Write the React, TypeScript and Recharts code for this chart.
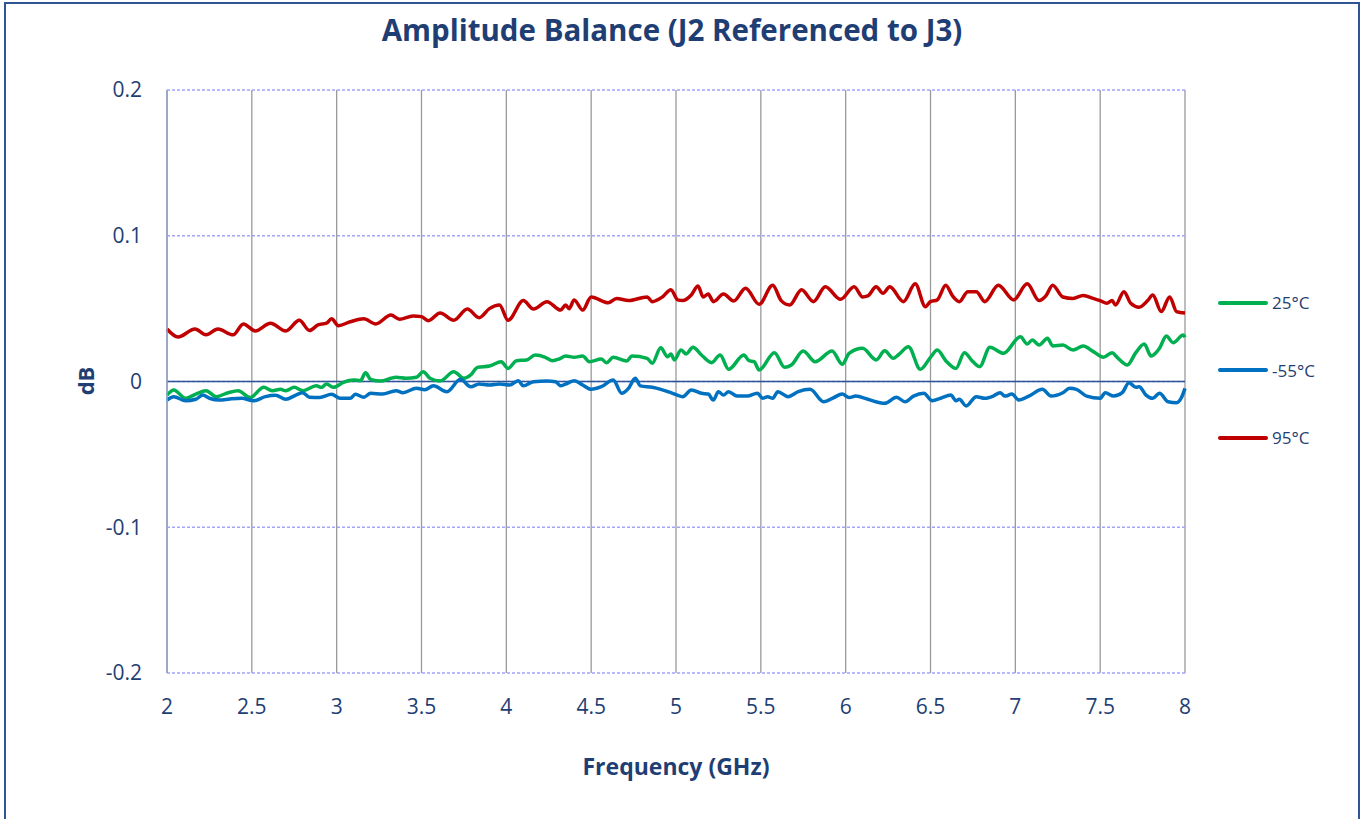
import React from "react"
import {
  LineChart,
  Line,
  XAxis,
  YAxis,
  CartesianGrid,
  ReferenceLine,
} from "recharts"

// 25°C
const freq25 = [
  2.0, 2.04, 2.11, 2.17, 2.23, 2.29, 2.36, 2.42, 2.49, 2.57, 2.62, 2.67, 2.7, 2.75, 2.8, 2.88, 2.91, 2.94,
  2.98, 3.04, 3.1, 3.14, 3.17, 3.2, 3.26, 3.32, 3.35, 3.41, 3.47, 3.51, 3.55, 3.61, 3.69, 3.75, 3.79, 3.83,
  3.9, 3.97, 4.01, 4.06, 4.12, 4.17, 4.23, 4.27, 4.31, 4.35, 4.4, 4.45, 4.49, 4.56, 4.59, 4.63, 4.71, 4.74,
  4.83, 4.86, 4.91, 4.95, 4.97, 4.99, 5.03, 5.06, 5.1, 5.15, 5.21, 5.26, 5.31, 5.4, 5.43, 5.46, 5.49, 5.58,
  5.64, 5.68, 5.75, 5.82, 5.92, 5.98, 6.02, 6.1, 6.18, 6.23, 6.28, 6.31, 6.37, 6.44, 6.5, 6.54, 6.59, 6.65,
  6.7, 6.75, 6.79, 6.85, 6.93, 7.03, 7.07, 7.1, 7.14, 7.19, 7.22, 7.28, 7.34, 7.4, 7.46, 7.52, 7.57, 7.6,
  7.66, 7.71, 7.76, 7.8, 7.85, 7.89, 7.93, 7.99, 8.0,
]
const db25 = [
  -0.0093, -0.0058, -0.0115, -0.0086, -0.0063, -0.0104, -0.0077, -0.0063, -0.011, -0.004, -0.0063, -0.0054,
  -0.0063, -0.004, -0.0063, -0.003, -0.004, -0.0017, -0.004, -0.0006, 0.001, 0.0006, 0.006, 0.0015, 0.0003,
  0.0022, 0.0029, 0.0022, 0.0029, 0.0067, 0.0022, 0.0003, 0.0067, 0.0022, 0.0045, 0.0097, 0.0106, 0.0136,
  0.009, 0.0143, 0.0148, 0.0182, 0.0166, 0.0143, 0.0154, 0.0175, 0.0166, 0.0175, 0.0136, 0.0154, 0.0129,
  0.0166, 0.014, 0.0175, 0.0159, 0.0125, 0.0232, 0.017, 0.0189, 0.0148, 0.0216, 0.0189, 0.0235, 0.0182,
  0.0129, 0.0182, 0.0084, 0.0182, 0.0143, 0.0136, 0.0079, 0.0198, 0.0097, 0.0113, 0.0209, 0.0136, 0.0209,
  0.0118, 0.0193, 0.0228, 0.0148, 0.0211, 0.0159, 0.0182, 0.0239, 0.0084, 0.0166, 0.0216, 0.0143, 0.009,
  0.0198, 0.0136, 0.0102, 0.0235, 0.0193, 0.0307, 0.0257, 0.0285, 0.025, 0.0296, 0.0244, 0.025, 0.0216,
  0.0244, 0.0205, 0.0166, 0.0198, 0.0166, 0.0113, 0.0198, 0.0257, 0.0175, 0.0228, 0.0312, 0.0266, 0.0319,
  0.0303,
]

// -55°C
const freqM55 = [
  2.0, 2.04, 2.11, 2.17, 2.21, 2.25, 2.31, 2.37, 2.44, 2.51, 2.58, 2.64, 2.7, 2.76, 2.8, 2.84, 2.9, 2.97,
  3.02, 3.08, 3.11, 3.16, 3.2, 3.27, 3.35, 3.39, 3.47, 3.52, 3.57, 3.65, 3.73, 3.79, 3.84, 3.9, 3.96, 4.02,
  4.07, 4.1, 4.16, 4.24, 4.29, 4.32, 4.36, 4.4, 4.45, 4.5, 4.56, 4.63, 4.68, 4.72, 4.76, 4.79, 4.86, 4.91,
  4.98, 5.04, 5.09, 5.15, 5.19, 5.22, 5.25, 5.28, 5.31, 5.36, 5.42, 5.48, 5.51, 5.54, 5.57, 5.6, 5.66, 5.72,
  5.79, 5.87, 5.93, 5.98, 6.02, 6.06, 6.13, 6.23, 6.3, 6.35, 6.4, 6.46, 6.51, 6.56, 6.62, 6.65, 6.67, 6.71,
  6.77, 6.82, 6.87, 6.91, 6.94, 6.98, 7.02, 7.08, 7.16, 7.21, 7.28, 7.32, 7.36, 7.42, 7.5, 7.53, 7.58, 7.63,
  7.67, 7.71, 7.73, 7.77, 7.81, 7.85, 7.9, 7.95, 7.98, 8.0,
]
const dbM55 = [
  -0.0127, -0.0104, -0.0132, -0.0122, -0.0093, -0.0115, -0.0127, -0.012, -0.0115, -0.0132, -0.0104, -0.0095,
  -0.0122, -0.0093, -0.0077, -0.0108, -0.011, -0.0088, -0.0115, -0.0115, -0.0088, -0.0108, -0.0081, -0.0086,
  -0.0063, -0.0077, -0.0047, -0.0056, -0.003, -0.007, 0.0015, -0.0036, -0.0017, -0.0024, -0.0017, -0.0024,
  0.0006, -0.003, -0.0001, 0.0003, -0.0001, -0.003, -0.0012, 0.0006, -0.0024, -0.0054, -0.0036, 0.001,
  -0.0081, -0.0047, 0.0022, -0.003, -0.004, -0.0054, -0.0081, -0.0104, -0.0058, -0.0081, -0.0086, -0.0127,
  -0.007, -0.0093, -0.007, -0.01, -0.01, -0.0081, -0.0115, -0.0104, -0.0115, -0.007, -0.0104, -0.007,
  -0.0054, -0.0139, -0.011, -0.0086, -0.011, -0.01, -0.0122, -0.015, -0.0108, -0.0139, -0.01, -0.0081,
  -0.0132, -0.0115, -0.0093, -0.0132, -0.0122, -0.0168, -0.0104, -0.0115, -0.01, -0.0077, -0.01, -0.0086,
  -0.0127, -0.01, -0.0054, -0.01, -0.0077, -0.0047, -0.0054, -0.01, -0.0115, -0.0077, -0.01, -0.0077,
  -0.0008, -0.004, -0.0036, -0.0093, -0.0115, -0.0081, -0.0139, -0.0145, -0.0108, -0.0047,
]

// 95°C
const freq95 = [
  2.0, 2.065, 2.165, 2.23, 2.3, 2.39, 2.45, 2.52, 2.61, 2.7, 2.78, 2.84, 2.89, 2.94, 2.97, 3.01, 3.08, 3.16,
  3.23, 3.32, 3.37, 3.45, 3.5, 3.54, 3.61, 3.69, 3.77, 3.84, 3.9, 3.96, 4.01, 4.1, 4.16, 4.24, 4.32, 4.35,
  4.37, 4.4, 4.45, 4.5, 4.6, 4.65, 4.72, 4.83, 4.86, 4.92, 4.97, 5.01, 5.04, 5.09, 5.13, 5.16, 5.19, 5.22,
  5.28, 5.34, 5.41, 5.49, 5.57, 5.62, 5.67, 5.74, 5.81, 5.88, 5.97, 6.05, 6.1, 6.13, 6.18, 6.22, 6.26, 6.34,
  6.41, 6.47, 6.5, 6.54, 6.59, 6.63, 6.67, 6.72, 6.77, 6.82, 6.9, 6.99, 7.07, 7.14, 7.18, 7.22, 7.28, 7.34,
  7.4, 7.46, 7.5, 7.54, 7.57, 7.59, 7.64, 7.68, 7.73, 7.78, 7.81, 7.86, 7.91, 7.95, 8.0,
]
const db95 = [
  0.036, 0.0305, 0.036, 0.032, 0.036, 0.032, 0.0395, 0.0347, 0.04, 0.0347, 0.042, 0.035, 0.0388, 0.04, 0.043,
  0.0383, 0.041, 0.043, 0.0395, 0.0456, 0.0427, 0.045, 0.0445, 0.0417, 0.047, 0.042, 0.0497, 0.0438, 0.05,
  0.0525, 0.042, 0.0555, 0.0497, 0.0548, 0.049, 0.0525, 0.05, 0.056, 0.049, 0.058, 0.054, 0.057, 0.0555,
  0.058, 0.0548, 0.058, 0.063, 0.056, 0.0555, 0.0594, 0.0655, 0.058, 0.06, 0.0548, 0.06, 0.0552, 0.064, 0.053,
  0.066, 0.0555, 0.0525, 0.063, 0.0548, 0.065, 0.0564, 0.065, 0.058, 0.0587, 0.065, 0.0605, 0.065, 0.0548,
  0.067, 0.0513, 0.0548, 0.056, 0.066, 0.0587, 0.0548, 0.0616, 0.0616, 0.0548, 0.066, 0.056, 0.067, 0.0555,
  0.0587, 0.066, 0.058, 0.057, 0.059, 0.057, 0.0555, 0.0537, 0.0555, 0.0525, 0.0616, 0.0537, 0.051, 0.0555,
  0.0594, 0.048, 0.058, 0.048, 0.047,
]

const xTicks = [2, 2.5, 3, 3.5, 4, 4.5, 5, 5.5, 6, 6.5, 7, 7.5, 8]
const yTicks = [-0.2, -0.1, 0, 0.1, 0.2]

const toPoints = (freqs: number[], vals: number[]) => freqs.map((f, i) => ({ f, v: vals[i] }))

const series = [
  { name: "25°C", color: "#00B050", data: toPoints(freq25, db25) },
  { name: "-55°C", color: "#0070C0", data: toPoints(freqM55, dbM55) },
  { name: "95°C", color: "#C00000", data: toPoints(freq95, db95) },
]

const FONT = "'Open Sans', 'Noto Sans', sans-serif"
const TEXT = "#1F3E74"

// legend drawn beside the plot, like the Excel original
function LegendBox() {
  return (
    <div
      style={{
        position: "absolute",
        left: 1218,
        top: 269,
        fontFamily: FONT,
        fontSize: 17,
        color: TEXT,
      }}
    >
      {series.map((s) => (
        <div key={s.name} style={{ display: "flex", alignItems: "center", height: 67.5 }}>
          <div style={{ width: 50, height: 4, background: s.color, borderRadius: 2, marginRight: 4 }} />
          <span>{s.name}</span>
        </div>
      ))}
    </div>
  )
}

export default function App() {
  return (
    <div
      style={{
        position: "absolute",
        left: 0,
        top: 0,
        width: 1360,
        height: 819,
        background: "#fff",
        overflow: "hidden",
        fontFamily: FONT,
      }}
    >
      <div
        style={{
          position: "absolute",
          left: 4,
          top: 2,
          width: 1352,
          height: 840,
          border: "2px solid #2F5597",
        }}
      />
      <div
        style={{
          position: "absolute",
          left: 0,
          width: 1344,
          top: 9,
          textAlign: "center",
          fontSize: 29.5,
          fontWeight: 700,
          color: TEXT,
        }}
      >
        Amplitude Balance (J2 Referenced to J3)
      </div>
      <div style={{ position: "absolute", left: 0, top: 0 }}>
        <LineChart width={1360} height={819} margin={{ top: 90, right: 175, left: 0, bottom: 0 }}>
          <CartesianGrid horizontal={false} stroke="#9A9A9A" strokeWidth={1.3} />
          <CartesianGrid vertical={false} stroke="#A3A3FA" strokeDasharray="3 2" strokeWidth={1.3} />
          <XAxis
            type="number"
            dataKey="f"
            domain={[2, 8]}
            ticks={xTicks}
            allowDuplicatedCategory={false}
            axisLine={false}
            tickLine={false}
            tickSize={0}
            tickMargin={26}
            height={146}
            tick={{ fill: TEXT, fontSize: 21, fontFamily: FONT }}
          />
          <YAxis
            type="number"
            domain={[-0.2, 0.2]}
            ticks={yTicks}
            width={167}
            axisLine={{ stroke: "#8FA3C8", strokeWidth: 1.5 }}
            tickLine={false}
            tickSize={0}
            tickMargin={25}
            tickFormatter={(v: number) => `${Math.round(v * 10) / 10}`}
            tick={{ fill: TEXT, fontSize: 21, fontFamily: FONT }}
          />
          <ReferenceLine y={0} stroke="#2F5597" strokeWidth={1.3} />
          {series.map((s) => (
            <Line
              key={s.name}
              data={s.data}
              dataKey="v"
              name={s.name}
              stroke={s.color}
              strokeWidth={3.5}
              dot={false}
              type="monotone"
              isAnimationActive={false}
            />
          ))}
        </LineChart>
      </div>
      <LegendBox />
      <div
        style={{
          position: "absolute",
          left: 167,
          width: 1018,
          top: 750,
          textAlign: "center",
          fontSize: 23,
          fontWeight: 700,
          color: TEXT,
        }}
      >
        Frequency (GHz)
      </div>
      <div
        style={{
          position: "absolute",
          left: 85,
          top: 381,
          transform: "translate(-50%, -50%) rotate(-90deg)",
          fontSize: 22,
          fontWeight: 700,
          color: TEXT,
          whiteSpace: "nowrap",
        }}
      >
        dB
      </div>
    </div>
  )
}
